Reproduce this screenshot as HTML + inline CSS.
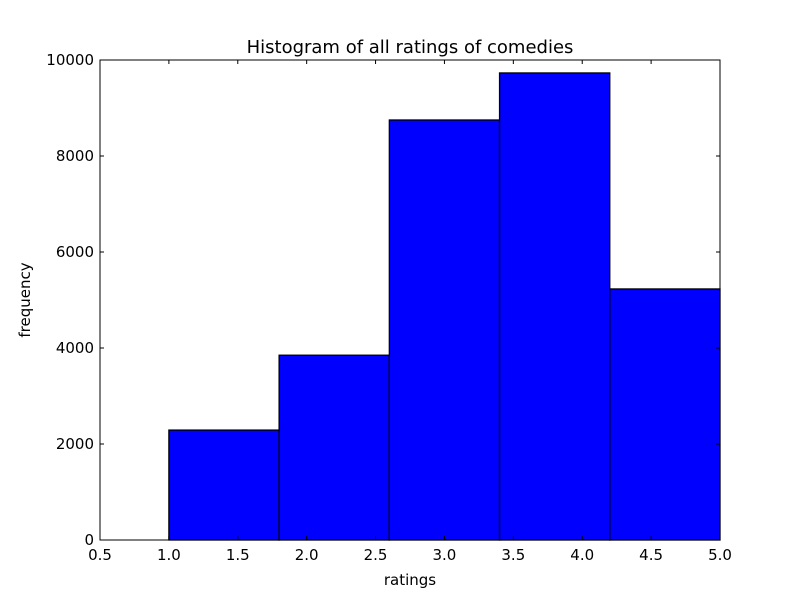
<!DOCTYPE html>
<html><head><meta charset="utf-8"><style>
body{margin:0;background:#fff;}
svg text{font-family:"DejaVu Sans","Liberation Sans",sans-serif;fill:#000;}
</style></head><body>
<svg id="chart" width="800" height="600" xmlns="http://www.w3.org/2000/svg">
<rect width="800" height="600" fill="#fff"/>
<g id="bars"></g>
<rect x="100" y="60" width="620" height="480" fill="none" stroke="#000" stroke-width="1"/>
<g id="ticks"></g>
<text x="410" y="53" font-size="18" text-anchor="middle">Histogram of all ratings of comedies</text>
<text x="410" y="585" font-size="15" text-anchor="middle">ratings</text>
<text transform="translate(30,300) rotate(-90)" font-size="15" text-anchor="middle">frequency</text>
</svg>
<script>
const binEdges=[1.0,1.8,2.6,3.4,4.2,5.0];
const counts=[2290,3850,8750,9730,5230];
const xTicks=[0.5,1.0,1.5,2.0,2.5,3.0,3.5,4.0,4.5,5.0];
const xTickLabels=["0.5","1.0","1.5","2.0","2.5","3.0","3.5","4.0","4.5","5.0"];
const yTicks=[0,2000,4000,6000,8000,10000];
const yTickLabels=["0","2000","4000","6000","8000","10000"];
const NS="http://www.w3.org/2000/svg";
const X0=100,X1=720,Y0=540,Y1=60,xmin=0.5,xmax=5.0,ymin=0,ymax=10000;
function sx(v){return X0+(v-xmin)/(xmax-xmin)*(X1-X0);}
function sy(v){return Y0-(v-ymin)/(ymax-ymin)*(Y0-Y1);}
function mk(t,a){const e=document.createElementNS(NS,t);for(const k in a)e.setAttribute(k,a[k]);return e;}
const bars=document.getElementById('bars');
counts.forEach((c,i)=>{
 const x=sx(binEdges[i]),x2=sx(binEdges[i+1]),y=sy(c);
 const r=mk('rect',{x:x,y:y,width:x2-x,height:Y0-y,fill:'#0000ff',stroke:'#000','stroke-width':1.3});
 
 
 bars.appendChild(r);
});
const tg=document.getElementById('ticks');
xTicks.forEach((v,i)=>{
 const x=sx(v);
 tg.appendChild(mk('line',{x1:x,x2:x,y1:Y0,y2:Y0-4,stroke:'#000'}));
 tg.appendChild(mk('line',{x1:x,x2:x,y1:Y1,y2:Y1+4,stroke:'#000'}));
 const t=mk('text',{x:x,y:Y0+20,'font-size':15,'text-anchor':'middle'});
 t.textContent=xTickLabels[i];
 
 
 tg.appendChild(t);
});
yTicks.forEach((v,i)=>{
 const y=sy(v);
 tg.appendChild(mk('line',{x1:X0,x2:X0+4,y1:y,y2:y,stroke:'#000'}));
 tg.appendChild(mk('line',{x1:X1,x2:X1-4,y1:y,y2:y,stroke:'#000'}));
 const t=mk('text',{x:X0-6,y:y+5,'font-size':15,'text-anchor':'end'});
 t.textContent=yTickLabels[i];
 
 
 tg.appendChild(t);
});
</script>
</body></html>
